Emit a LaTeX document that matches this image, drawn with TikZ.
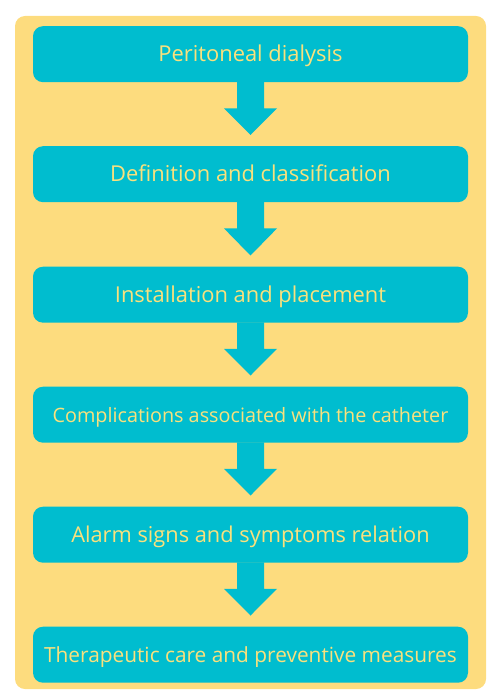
\documentclass[tikz,border=0pt]{standalone}
\usepackage{fontspec}
\setmainfont{Open Sans}
\usetikzlibrary{calc}
\definecolor{tealbox}{RGB}{0,189,207}
\definecolor{sand}{RGB}{253,220,126}
\definecolor{txt}{RGB}{250,225,125}
\tikzset{
  stepbox/.style={fill=tealbox, rounded corners=10pt, minimum width=435pt, minimum height=56pt, inner sep=0pt, text=txt, text depth=0pt, anchor=north},
  fs/.style 2 args={font=\fontsize{#1}{#1}\selectfont, text height=#2},
  downarrow/.style={fill=tealbox}
}
\begin{document}
\begin{tikzpicture}[x=1pt,y=1pt]
\useasboundingbox (0,0) rectangle (500,-700);
\fill[sand, rounded corners=10pt] (15,-16) rectangle (486,-689);
\node[stepbox, fs={21.9}{15.6pt}] (b1) at (250.5,-26) {Peritoneal dialysis};
\node[stepbox, fs={21.9}{15.6pt}] (b2) at (250.5,-146) {Definition and classification};
\node[stepbox, fs={21.9}{15.6pt}] (b3) at (250.5,-266.5) {Installation and placement};
\node[stepbox, fs={19.8}{14.6pt}] (b4) at (250.5,-386.5) {Complications associated with the catheter};
\node[stepbox, fs={21.8}{15.6pt}] (b5) at (250.5,-506.5) {Alarm signs and symptoms relation};
\node[stepbox, fs={20.85}{15.4pt}] (b6) at (250.5,-626.5) {Therapeutic care and preventive measures};
\foreach \a/\b in {b1/b2,b2/b3,b3/b4,b4/b5,b5/b6}{
  \fill[downarrow] ($(\a.south)+(-13.5,0.5)$) -- ++(0,-26.5) -- ++(-13,0) -- ($(\b.north)+(0,11)$) -- ($(\a.south)+(26.5,-26)$) -- ++(-13,0) -- ($(\a.south)+(13.5,0.5)$) -- cycle;
}
\end{tikzpicture}
\end{document}
